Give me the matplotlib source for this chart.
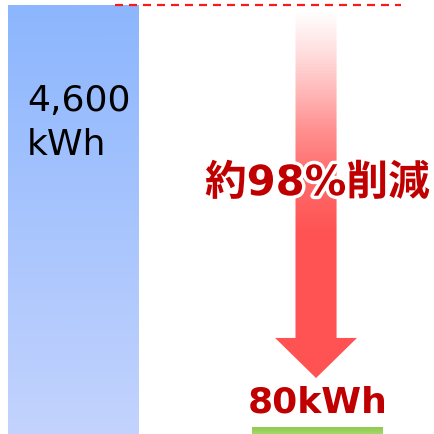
import numpy as np
import matplotlib.pyplot as plt
from matplotlib.colors import LinearSegmentedColormap
from matplotlib.patches import Polygon, Rectangle
import matplotlib.patheffects as pe

plt.rcParams['font.family'] = ['DejaVu Sans', 'Noto Sans CJK JP']

# usage before / after (kWh)
labels = ['before', 'after']
values = [4600, 80]
unit = 'kWh'

fig = plt.figure(figsize=(4.34, 4.34), dpi=100)
ax = fig.add_axes([0, 0, 1, 429 / 434])
ax.set_xlim(-0.2986, 1.4765)
ax.set_ylim(0, values[0])
ax.axis('off')

w = 0.532
x0, x1 = 0, 1
grad = np.linspace(0, 1, 256).reshape(-1, 1)

# before: blue bar with vertical gradient
blue = LinearSegmentedColormap.from_list('b', ['#c3d3fd', '#8cb6fd'])
bar0 = Rectangle((x0 - w / 2, 0), w, values[0], facecolor='none', edgecolor='none')
ax.add_patch(bar0)
im = ax.imshow(grad, cmap=blue, origin='lower', aspect='auto',
               extent=(x0 - w / 2, x0 + w / 2, 0, values[0]), zorder=1)
im.set_clip_path(bar0)

# after: thin green bar
green = LinearSegmentedColormap.from_list('g', ['#a4d868', '#8cc84c'])
bar1 = Rectangle((x1 - w / 2, 0), w, values[1], facecolor='none', edgecolor='none')
ax.add_patch(bar1)
im2 = ax.imshow(grad, cmap=green, origin='lower', aspect='auto',
                extent=(x1 - w / 2, x1 + w / 2, 0, values[1]), zorder=1)
im2.set_clip_path(bar1)

# dashed reference line at the old level
ax.plot([0.172, 1.342], [values[0], values[0]], color='#ff1a1a', lw=1.6,
        linestyle=(0, (3.6, 2.7)), zorder=3, clip_on=False)

# down arrow, white at top fading into red
shaft = 0.168
head_w = 0.335
head_len = 430
tip = 600
neck = tip + head_len
xc = 0.994
arrow = Polygon([(xc - shaft / 2, values[0]), (xc + shaft / 2, values[0]),
                 (xc + shaft / 2, neck), (xc + head_w / 2, neck),
                 (xc, tip), (xc - head_w / 2, neck),
                 (xc - shaft / 2, neck)], closed=True,
                facecolor='none', edgecolor='none')
ax.add_patch(arrow)
red = LinearSegmentedColormap.from_list(
    'r', [(0, '#ff5252'), (0.383, '#ff5252'), (0.558, '#ff7070'),
          (0.665, '#ff9090'), (0.745, '#ffb0b0'), (0.853, '#ffd8d8'),
          (0.98, '#ffffff'), (1.0, '#ffffff')])
im3 = ax.imshow(grad, cmap=red, origin='lower', aspect='auto',
                extent=(xc - head_w / 2, xc + head_w / 2, tip, values[0]), zorder=2)
im3.set_clip_path(arrow)

# labels
ax.text(x0 - w / 2 + 0.078, 3750, f'{values[0]:,}\n{unit}', fontsize=26,
        color='black', ha='left', va='top', linespacing=1.36, zorder=4)

cut = round((1 - values[1] / values[0]) * 100)
ax.text(xc + 0.005, 2690, f'約{cut}%削減', fontsize=30, fontweight='bold',
        color='#c00000', ha='center', va='center', zorder=5,
        path_effects=[pe.withStroke(linewidth=5, foreground='white')])

ax.text(xc + 0.006, 232, f'{values[1]}{unit}', fontsize=26, fontweight='bold',
        color='#c00000', ha='center', va='baseline', zorder=5)

fig.savefig('out.png', dpi=100)
